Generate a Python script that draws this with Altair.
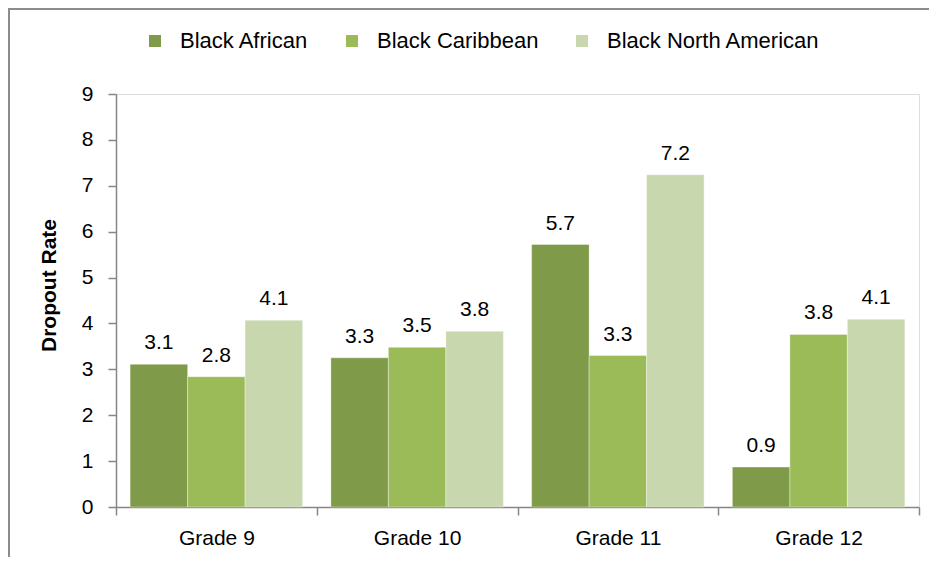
import altair as alt
import pandas as pd

grades = ["Grade 9", "Grade 10", "Grade 11", "Grade 12"]
groups = ["Black African", "Black Caribbean", "Black North American"]
black_african = [3.11, 3.25, 5.72, 0.87]
black_caribbean = [2.84, 3.48, 3.3, 3.76]
black_north_american = [4.07, 3.83, 7.24, 4.09]
colors = ["#7F9A48", "#9BBB59", "#C8D7AE"]
y_ticks = list(range(0, 10))

rows = []
for series, vals in zip(groups, [black_african, black_caribbean, black_north_american]):
    for g, v in zip(grades, vals):
        rows.append({"grade": g, "group": series, "value": v})
df = pd.DataFrame(rows)

FONT = "Liberation Sans"
FS = 21
W, H = 803, 413

x_enc = alt.X(
    "grade:N",
    sort=grades,
    scale=alt.Scale(paddingInner=0, paddingOuter=0),
    axis=alt.Axis(
        title=None, labelAngle=0, tickBand="extent", tickSize=8,
        labelPadding=12, labelFontSize=FS, labelFont=FONT, labelColor="black",
        domainColor="#868686", tickColor="#868686", domainWidth=1.5, tickWidth=1.5,
    ),
)
xo_enc = alt.XOffset("group:N", sort=groups, scale=alt.Scale(paddingInner=0, paddingOuter=0.2457))
y_enc = alt.Y(
    "value:Q",
    scale=alt.Scale(domain=[0, 9], nice=False),
    axis=alt.Axis(
        title="Dropout Rate", values=y_ticks, grid=False, tickSize=8,
        labelPadding=15, labelFontSize=FS, labelFont=FONT, labelColor="black",
        titleFont=FONT, titleFontSize=21, titleFontWeight="bold", titleColor="black",
        titleX=-57, titleY=191, titleAngle=270,
        domainColor="#868686", tickColor="#868686", domainWidth=1.5, tickWidth=1.5,
    ),
)
color_enc = alt.Color(
    "group:N",
    scale=alt.Scale(domain=groups, range=colors),
    legend=alt.Legend(
        title=None, orient="none", legendX=28, legendY=-64, direction="horizontal",
        symbolType="square", symbolSize=144, symbolStrokeWidth=0,
        labelFontSize=22, labelFont=FONT, labelColor="black", labelLimit=400,
        labelOffset=14, columnPadding=32, padding=0,
    ),
)

base = alt.Chart(df)
bars = base.mark_bar(stroke="white", strokeWidth=0.6, strokeOpacity=0.6).encode(
    x=x_enc, xOffset=xo_enc, y=y_enc, color=color_enc
)
labels = base.mark_text(baseline="alphabetic", dy=-15, fontSize=FS, font=FONT, color="black").encode(
    x=alt.X("grade:N", sort=grades), xOffset=alt.XOffset("group:N", sort=groups),
    y="value:Q", text=alt.Text("value:Q", format=".1f"),
)
border = alt.Chart(pd.DataFrame({"a": [0]})).mark_rect(
    filled=False, stroke="#8c8c8c", strokeWidth=2
).encode(
    x=alt.value(-107), x2=alt.value(W + 40), y=alt.value(-85), y2=alt.value(H + 80)
)

chart = alt.layer(border, bars, labels).properties(
    width=W, height=H,
    autosize=alt.AutoSizeParams(type="none"),
    padding={"left": 108, "top": 86, "right": 10, "bottom": 50},
).configure_view(stroke=None).configure(background="white")

chart.save("out.html", embed_options={"renderer": "svg", "actions": False})
